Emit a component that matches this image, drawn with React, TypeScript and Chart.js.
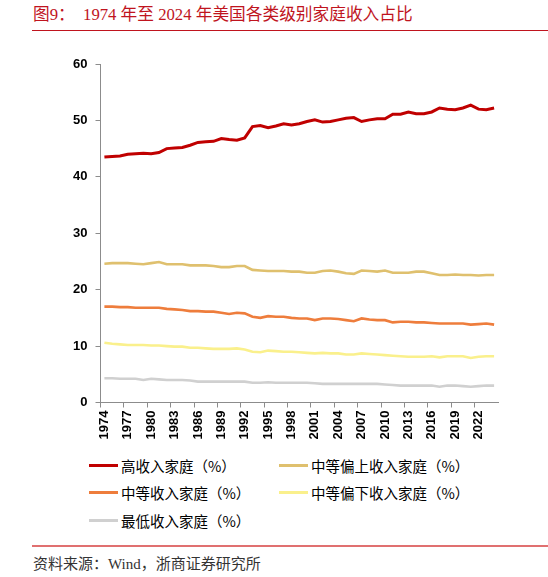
import { useEffect, useRef } from 'react';
import { Chart, registerables } from 'chart.js';

Chart.register(...registerables);

const years = [
  '1974', '1975', '1976', '1977', '1978', '1979', '1980', '1981', '1982', '1983',
  '1984', '1985', '1986', '1987', '1988', '1989', '1990', '1991', '1992', '1993',
  '1994', '1995', '1996', '1997', '1998', '1999', '2000', '2001', '2002', '2003',
  '2004', '2005', '2006', '2007', '2008', '2009', '2010', '2011', '2012', '2013',
  '2014', '2015', '2016', '2017', '2018', '2019', '2020', '2021', '2022', '2023',
  '2024',
];

const highIncome = [
  43.5, 43.6, 43.7, 44.0, 44.1, 44.2, 44.1, 44.3, 45.0, 45.1,
  45.2, 45.6, 46.1, 46.2, 46.3, 46.8, 46.6, 46.5, 46.9, 48.9,
  49.1, 48.7, 49.0, 49.4, 49.2, 49.4, 49.8, 50.1, 49.7, 49.8,
  50.1, 50.4, 50.5, 49.8, 50.1, 50.3, 50.3, 51.1, 51.1, 51.5,
  51.2, 51.2, 51.5, 52.2, 52.0, 51.9, 52.2, 52.7, 52.0, 51.9,
  52.2,
];

const upperMiddle = [
  24.6, 24.7, 24.7, 24.7, 24.6, 24.5, 24.7, 24.9, 24.5, 24.5,
  24.5, 24.3, 24.3, 24.3, 24.2, 24.0, 24.0, 24.2, 24.2, 23.5,
  23.4, 23.3, 23.3, 23.3, 23.2, 23.2, 23.0, 23.0, 23.3, 23.4,
  23.2, 22.9, 22.8, 23.4, 23.3, 23.2, 23.4, 23.0, 23.0, 23.0,
  23.2, 23.2, 22.9, 22.6, 22.6, 22.7, 22.6, 22.6, 22.5, 22.6,
  22.6,
];

const middle = [
  17.0, 17.0, 16.9, 16.9, 16.8, 16.8, 16.8, 16.8, 16.6, 16.5,
  16.4, 16.2, 16.2, 16.1, 16.1, 15.9, 15.7, 15.9, 15.8, 15.2,
  15.0, 15.3, 15.2, 15.2, 15.0, 14.9, 14.9, 14.6, 14.9, 14.9,
  14.8, 14.6, 14.4, 14.9, 14.7, 14.6, 14.6, 14.2, 14.3, 14.3,
  14.2, 14.2, 14.1, 14.0, 14.0, 14.0, 14.0, 13.8, 13.9, 14.0,
  13.8,
];

const lowerMiddle = [
  10.6, 10.4, 10.3, 10.2, 10.2, 10.2, 10.1, 10.1, 10.0, 9.9,
  9.9, 9.7, 9.7, 9.6, 9.5, 9.5, 9.5, 9.6, 9.4, 9.0,
  8.9, 9.2, 9.1, 9.0, 9.0, 8.9, 8.8, 8.7, 8.8, 8.7,
  8.7, 8.5, 8.5, 8.7, 8.6, 8.5, 8.4, 8.3, 8.2, 8.1,
  8.1, 8.1, 8.2, 8.0, 8.2, 8.2, 8.2, 7.9, 8.1, 8.2,
  8.2,
];

const lowest = [
  4.3, 4.3, 4.2, 4.2, 4.2, 4.0, 4.2, 4.1, 4.0, 4.0,
  4.0, 3.9, 3.7, 3.7, 3.7, 3.7, 3.7, 3.7, 3.7, 3.5,
  3.5, 3.6, 3.5, 3.5, 3.5, 3.5, 3.5, 3.4, 3.3, 3.3,
  3.3, 3.3, 3.3, 3.3, 3.3, 3.3, 3.2, 3.1, 3.0, 3.0,
  3.0, 3.0, 3.0, 2.8, 3.0, 3.0, 2.9, 2.8, 2.9, 3.0,
  3.0,
];

const seriesNames = [
  '高收入家庭（%）',
  '中等偏上收入家庭（%）',
  '中等收入家庭（%）',
  '中等偏下收入家庭（%）',
  '最低收入家庭（%）',
];
const seriesColors = ['#C00000', '#DFC06E', '#EE7D3C', '#FAF08C', '#D0D0D0'];
const seriesData = [highIncome, upperMiddle, middle, lowerMiddle, lowest];

const titleText = '图9：  1974 年至 2024 年美国各类级别家庭收入占比';
const sourceText = '资料来源：Wind，浙商证券研究所';

// legend grid slots (left, top) for the five entries
const legendSlots = [
  [89, 465], [279, 465],
  [89, 492], [279, 492],
  [89, 520],
];

const axisColor = '#8c8c8c';
const tickFont = { family: '"Liberation Sans", Arial, sans-serif', size: 13, weight: 'bold' as const };

export default function App() {
  const canvasRef = useRef<HTMLCanvasElement>(null);
  const chartRef = useRef<Chart | null>(null);

  useEffect(() => {
    if (!canvasRef.current) return;
    if (chartRef.current) chartRef.current.destroy();

    chartRef.current = new Chart(canvasRef.current, {
      type: 'line',
      data: {
        labels: years,
        datasets: seriesData.map((d, i) => ({
          label: seriesNames[i],
          data: d,
          borderColor: seriesColors[i],
          backgroundColor: seriesColors[i],
          borderWidth: i === 0 ? 3 : 2.6,
          pointRadius: 0,
          tension: 0,
          fill: false,
        })),
      },
      options: {
        responsive: false,
        animation: false,
        layout: { padding: { top: 64, left: 0, right: 50, bottom: 0 } },
        plugins: {
          legend: { display: false },
          tooltip: { enabled: false },
        },
        scales: {
          x: {
            type: 'category',
            offset: true,
            afterFit: (scale) => { scale.height = 42.5; },
            grid: {
              offset: true,
              drawOnChartArea: false,
              drawTicks: true,
              tickLength: 5,
              color: (ctx) => (ctx.index % 3 === 0 ? axisColor : 'rgba(0,0,0,0)'),
            },
            border: { color: axisColor, width: 1 },
            ticks: {
              autoSkip: false,
              maxRotation: 90,
              minRotation: 90,
              padding: 3,
              color: '#000',
              font: tickFont,
              callback: (_v, i) => (i % 3 === 0 ? years[i] : ''),
            },
          },
          y: {
            min: 0,
            max: 60,
            afterFit: (scale) => { scale.width = 100.5; },
            grid: {
              drawOnChartArea: false,
              drawTicks: true,
              tickLength: 5,
              color: axisColor,
            },
            border: { color: axisColor, width: 1 },
            ticks: {
              stepSize: 10,
              padding: 8,
              color: '#000',
              font: tickFont,
            },
          },
        },
      },
    });

    return () => { if (chartRef.current) chartRef.current.destroy(); };
  }, []);

  return (
    <div
      style={{
        position: 'fixed',
        top: 0,
        left: 0,
        width: 548,
        height: 577,
        background: '#fff',
        overflow: 'hidden',
      }}
    >
      <div
        style={{
          position: 'absolute',
          left: 33,
          top: 3,
          whiteSpace: 'pre',
          color: '#C0141E',
          fontFamily: '"Liberation Serif", "Noto Sans CJK SC", serif',
          fontSize: 16.7,
          lineHeight: '24px',
        }}
      >
        {titleText}
      </div>
      <div style={{ position: 'absolute', left: 32, top: 30, width: 516, height: 1, background: '#C0141E' }} />

      <canvas ref={canvasRef} width={548} height={445} style={{ position: 'absolute', left: 0, top: 0 }} />

      {seriesNames.map((name, i) => (
        <div
          key={name}
          style={{
            position: 'absolute',
            left: legendSlots[i][0],
            top: legendSlots[i][1] - 10,
            height: 20,
            display: 'flex',
            alignItems: 'center',
            whiteSpace: 'nowrap',
          }}
        >
          <span style={{ display: 'inline-block', width: 29, height: 3, background: seriesColors[i], marginRight: 3 }} />
          <span style={{ fontFamily: '"Noto Sans CJK SC", sans-serif', fontSize: 14.5, color: '#000' }}>{name}</span>
        </div>
      ))}

      <div style={{ position: 'absolute', left: 32, top: 545, width: 516, height: 1.5, background: '#E07070' }} />
      <div
        style={{
          position: 'absolute',
          left: 33,
          top: 553,
          whiteSpace: 'pre',
          color: '#333',
          fontFamily: '"Liberation Serif", "Noto Sans CJK SC", serif',
          fontSize: 15,
          lineHeight: '22px',
        }}
      >
        {sourceText}
      </div>
    </div>
  );
}
